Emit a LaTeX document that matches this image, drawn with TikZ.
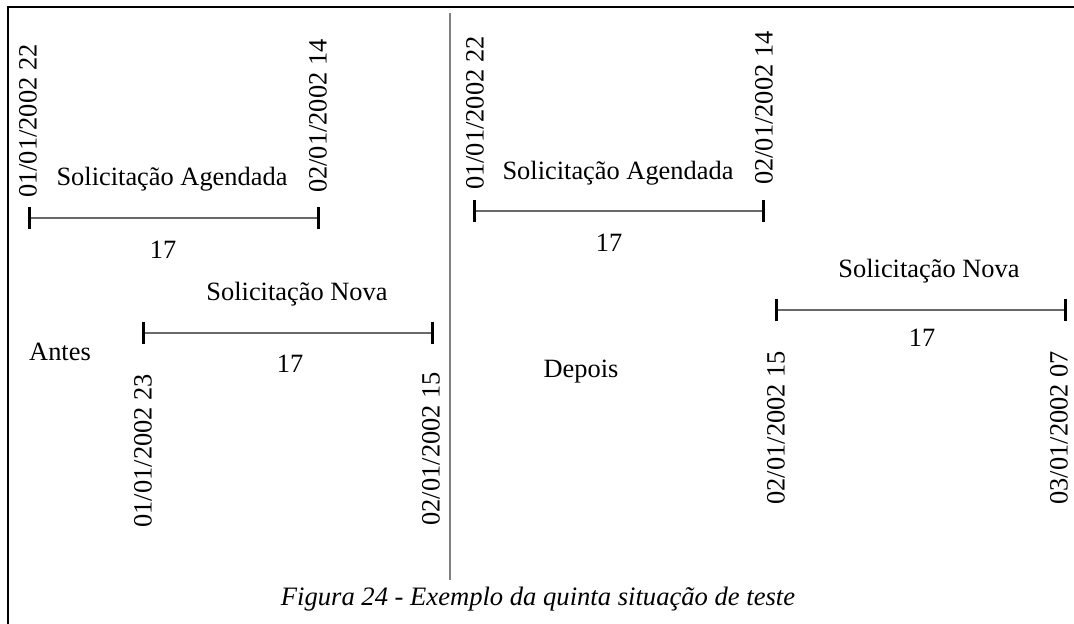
\documentclass[tikz,border=0pt]{standalone}
\usepackage{fontspec}
\setmainfont{Liberation Serif}
\usetikzlibrary{positioning}

\definecolor{bargray}{RGB}{105,105,105}
\definecolor{rulegray}{RGB}{128,128,128}

\begin{document}
\begin{tikzpicture}[
	  x=1pt, y=-1pt,
	  txt/.style={inner sep=0pt, anchor=base, font=\fontsize{26.4}{30}\selectfont},
	  datelabel/.style={inner sep=0pt, rotate=90, font=\fontsize{26.4}{30}\selectfont},
	  bar/.style={draw=bargray, line width=2pt},
	  tick/.style={draw=black, line width=3pt},
	  frame/.style={draw=black, line width=2pt},
	  divider/.style={draw=rulegray, line width=2pt}
	]

	\useasboundingbox (0,0) rectangle (1074,624);

	% moldura e divisao
	\coordinate (fa) at (8,624);
	\coordinate (fb) at (8,7);
	\coordinate (fc) at (1074,7);
	\draw [frame] (fa) -- (fb) -- (fc);
	\coordinate (dtop) at (450,13);
	\coordinate (dbot) at (450,580);
	\draw [divider] (dtop) -- (dbot);

	% extremos das linhas de tempo
	\coordinate (a1s) at (29,218);
	\coordinate (a1e) at (318,218);
	\coordinate (a2s) at (143,333);
	\coordinate (a2e) at (432,333);
	\coordinate (b1s) at (474,211);
	\coordinate (b1e) at (763,211);
	\coordinate (b2s) at (776,310);
	\coordinate (b2e) at (1065,310);

	\draw [bar] (a1s) -- (a1e);
	\draw [bar] (a2s) -- (a2e);
	\draw [bar] (b1s) -- (b1e);
	\draw [bar] (b2s) -- (b2e);
	\foreach \p in {a1s,a1e,a2s,a2e,b1s,b1e,b2s,b2e}
	  \draw [tick] (\p) ++(0,-11) -- ++(0,22);

	% Antes
	\node (antes) [txt] at (60,360) {Antes};
	\node (a1nome) [txt] at (172,185) {Solicitação Agendada};
	\node (a1dur) [txt] at (163,258) {17};
	\node (a1ini) [datelabel, anchor=west] at (28,198) {01/01/2002 22};
	\node (a1fim) [datelabel, anchor=west] at (318,193) {02/01/2002 14};
	\node (a2nome) [txt] at (297,300) {Solicitação Nova};
	\node (a2dur) [txt] at (290,372) {17};
	\node (a2ini) [datelabel, anchor=east] at (143,374) {01/01/2002 23};
	\node (a2fim) [datelabel, anchor=east] at (431,372) {02/01/2002 15};

	% Depois
	\node (depois) [txt] at (581,377) {Depois};
	\node (b1nome) [txt] at (618,179) {Solicitação Agendada};
	\node (b1dur) [txt] at (609,251) {17};
	\node (b1ini) [datelabel, anchor=west] at (475,190) {01/01/2002 22};
	\node (b1fim) [datelabel, anchor=west] at (764,185) {02/01/2002 14};
	\node (b2nome) [txt] at (929,277) {Solicitação Nova};
	\node (b2dur) [txt] at (922,346) {17};
	\node (b2ini) [datelabel, anchor=east] at (776,351) {02/01/2002 15};
	\node (b2fim) [datelabel, anchor=east] at (1059,351) {03/01/2002 07};

	% legenda
	\node (legenda) [txt, font=\fontsize{26.6}{30}\selectfont\itshape] at (538,605) {Figura 24 - Exemplo da quinta situação de teste};

	\end{tikzpicture}
\end{document}
